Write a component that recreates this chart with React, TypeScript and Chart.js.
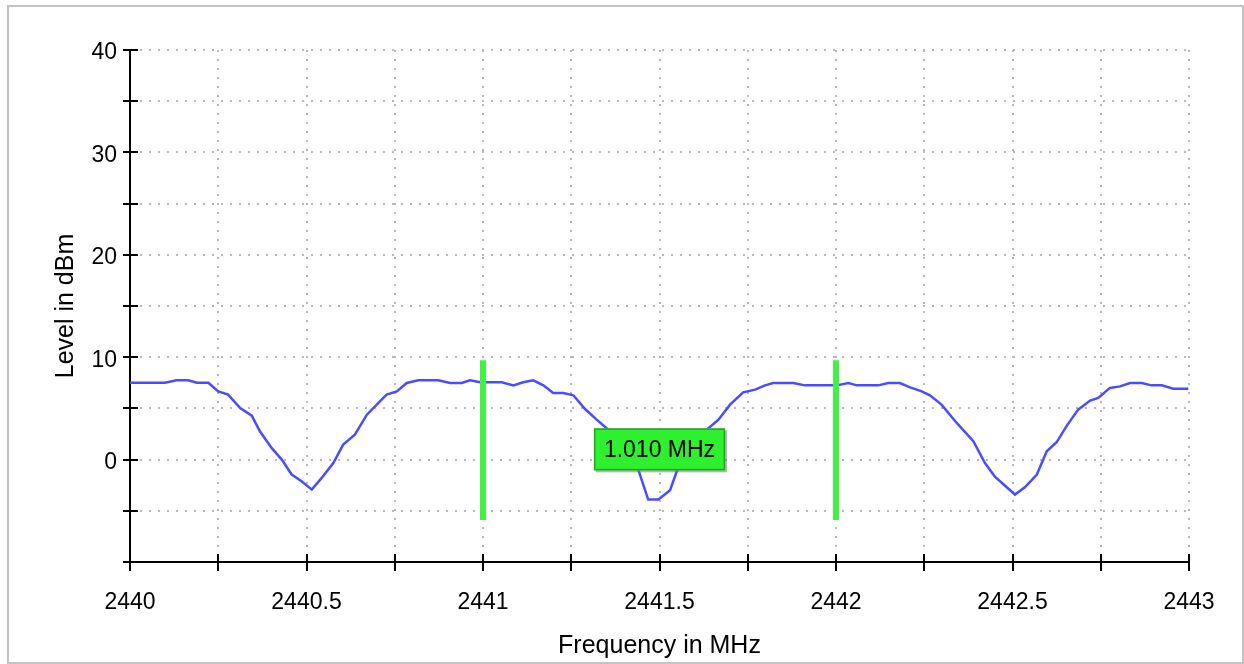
import React, { useEffect, useRef } from "react";
import { Chart, registerables } from "chart.js";

Chart.register(...registerables);

// Spectrum trace (frequency in MHz, level in dBm)
const freqs = [
  2440.0, 2440.099, 2440.132, 2440.165, 2440.189, 2440.222, 2440.25, 2440.278, 2440.312, 2440.345,
  2440.368, 2440.401, 2440.43, 2440.458, 2440.486, 2440.515, 2440.543, 2440.576, 2440.604, 2440.637,
  2440.671, 2440.708, 2440.727, 2440.756, 2440.784, 2440.817, 2440.873, 2440.907, 2440.94, 2440.963,
  2440.992, 2441.053, 2441.086, 2441.114, 2441.142, 2441.171, 2441.199, 2441.227, 2441.256, 2441.289,
  2441.322, 2441.346, 2441.377, 2441.408, 2441.44, 2441.468, 2441.497, 2441.53, 2441.549, 2441.581,
  2441.623, 2441.667, 2441.7, 2441.737, 2441.771, 2441.799, 2441.822, 2441.879, 2441.912, 2442.002,
  2442.035, 2442.059, 2442.12, 2442.148, 2442.181, 2442.21, 2442.243, 2442.266, 2442.299, 2442.342,
  2442.389, 2442.422, 2442.45, 2442.507, 2442.535, 2442.569, 2442.597, 2442.625, 2442.654, 2442.686,
  2442.72, 2442.743, 2442.776, 2442.805, 2442.833, 2442.866, 2442.894, 2442.923, 2442.955, 2442.998,
];
const levels = [
  7.5, 7.5, 7.75, 7.75, 7.5, 7.5, 6.66, 6.34, 5.04, 4.29,
  2.76, 1.14, 0.0, -1.46, -2.11, -2.93, -1.79, -0.33, 1.46, 2.44,
  4.39, 5.69, 6.34, 6.66, 7.48, 7.74, 7.74, 7.48, 7.48, 7.74,
  7.55, 7.55, 7.25, 7.55, 7.74, 7.25, 6.5, 6.5, 6.28, 4.94,
  3.9, 3.19, 2.2, 1.0, -0.98, -3.9, -3.9, -2.99, -1.14, 0.9,
  2.6, 3.9, 5.37, 6.57, 6.83, 7.25, 7.48, 7.48, 7.25, 7.25,
  7.48, 7.25, 7.25, 7.48, 7.48, 7.06, 6.66, 6.28, 5.37, 3.58,
  1.79, -0.33, -1.66, -3.41, -2.7, -1.46, 0.81, 1.69, 3.32, 4.88,
  5.76, 6.02, 7.0, 7.15, 7.48, 7.48, 7.25, 7.25, 6.93, 6.93,
];

// Markers
const markerFreqs = [2441, 2442];
const markerLevels = [-5.9, 9.7];
const markerLabel = "1.010 MHz";
const markerLabelLevel = 1.0;

// Axes
const xMin = 2440;
const xMax = 2443;
const xStep = 0.25;
const yMin = -10;
const yMax = 40;
const yStep = 5;
const xTitle = "Frequency in MHz";
const yTitle = "Level in dBm";

const FONT = "'Liberation Sans', Arial, Helvetica, sans-serif";

const crossTicks = {
  id: "crossTicks",
  afterDraw(chart: any) {
    const { ctx, chartArea } = chart;
    const xs = chart.scales.x;
    const ys = chart.scales.y;
    ctx.save();
    ctx.strokeStyle = "#000";
    ctx.lineWidth = 2;
    ctx.beginPath();
    ys.ticks.forEach((t: any) => {
      const py = Math.round(ys.getPixelForValue(t.value));
      ctx.moveTo(chartArea.left - 7, py);
      ctx.lineTo(chartArea.left + 8, py);
    });
    xs.ticks.forEach((t: any) => {
      const px = Math.round(xs.getPixelForValue(t.value));
      ctx.moveTo(px, chartArea.bottom - 8);
      ctx.lineTo(px, chartArea.bottom + 9);
    });
    ctx.stroke();
    ctx.restore();
  },
};

const markerBox = {
  id: "markerBox",
  afterDatasetsDraw(chart: any) {
    const { ctx } = chart;
    const xs = chart.scales.x;
    const ys = chart.scales.y;
    const cx = xs.getPixelForValue((markerFreqs[0] + markerFreqs[1]) / 2);
    const cy = ys.getPixelForValue(markerLabelLevel);
    ctx.save();
    ctx.font = `23px ${FONT}`;
    const tw = ctx.measureText(markerLabel).width;
    const w = tw + 20;
    const h = 42;
    const x0 = cx - w / 2;
    const y0 = cy - h / 2;
    ctx.fillStyle = "rgba(120,120,120,0.55)";
    ctx.fillRect(x0 + 2, y0 + 2, w, h);
    ctx.fillStyle = "#2ff02f";
    ctx.fillRect(x0, y0, w, h);
    ctx.strokeStyle = "#1ea81e";
    ctx.lineWidth = 1.5;
    ctx.strokeRect(x0 + 0.75, y0 + 0.75, w - 1.5, h - 1.5);
    ctx.fillStyle = "#000";
    ctx.textAlign = "center";
    ctx.textBaseline = "middle";
    ctx.fillText(markerLabel, cx, cy + 1);
    ctx.restore();
  },
};

export default function App() {
  const ref = useRef<HTMLCanvasElement | null>(null);

  useEffect(() => {
    if (!ref.current) return;
    const trace = freqs.map((f, i) => ({ x: f, y: levels[i] }));
    const markerSets = markerFreqs.map((f) => ({
      type: "line" as const,
      data: markerLevels.map((v) => ({ x: f, y: v })),
      borderColor: "#44f044",
      borderWidth: 6,
      pointRadius: 0,
      borderCapStyle: "butt" as const,
      order: 0,
    }));
    const chart = new Chart(ref.current, {
      type: "line",
      data: {
        datasets: [
          ...markerSets,
          {
            data: trace,
            borderColor: "#4b4bff",
            borderWidth: 2.5,
            pointRadius: 0,
            tension: 0,
            order: 1,
          },
        ],
      },
      options: {
        animation: false,
        responsive: false,
        events: [],
        layout: { padding: { left: 0, right: 55, top: 50, bottom: 0 } },
        plugins: { legend: { display: false }, tooltip: { enabled: false } },
        scales: {
          x: {
            type: "linear",
            min: xMin,
            max: xMax,
            afterFit(scale: any) {
              scale.height = 102;
            },
            ticks: {
              stepSize: xStep,
              autoSkip: false,
              maxRotation: 0,
              padding: 27,
              color: "#000",
              font: { family: FONT, size: 23 },
              callback: (v: any) => (Math.abs((v * 2) % 1) < 1e-9 ? String(v) : ""),
            },
            grid: {
              color: "#b8b8b8",
              lineWidth: 2,
              drawTicks: false,
            },
            border: { display: true, color: "#000", width: 2, dash: [2, 7] },
            title: {
              display: true,
              text: xTitle,
              color: "#000",
              font: { family: FONT, size: 25 },
              padding: { bottom: 3, top: 0 },
            },
          },
          y: {
            type: "linear",
            min: yMin,
            max: yMax,
            afterFit(scale: any) {
              scale.width = 130;
            },
            ticks: {
              stepSize: yStep,
              autoSkip: false,
              padding: 13,
              labelOffset: 3,
              color: "#000",
              font: { family: FONT, size: 23 },
              callback: (v: any) => (v % 10 === 0 && v !== yMin ? String(v) : ""),
            },
            grid: {
              color: "#b8b8b8",
              lineWidth: 2,
              drawTicks: false,
            },
            border: { display: true, color: "#000", width: 2, dash: [2, 7] },
            title: {
              display: true,
              text: yTitle,
              color: "#000",
              font: { family: FONT, size: 25 },
              padding: { top: 51, bottom: 0 },
            },
          },
        },
      },
      plugins: [markerBox, crossTicks],
    } as any);
    return () => chart.destroy();
  }, []);

  return (
    <div style={{ position: "fixed", left: 0, top: 0, width: 1244, height: 664, background: "#fff" }}>
      <div
        style={{
          position: "absolute",
          left: 7,
          top: 5,
          width: 1237,
          height: 659,
          border: "2px solid #c4c4c4",
          boxSizing: "border-box",
        }}
      />
      <canvas ref={ref} width={1244} height={664} style={{ position: "absolute", left: 0, top: 0 }} />
    </div>
  );
}
